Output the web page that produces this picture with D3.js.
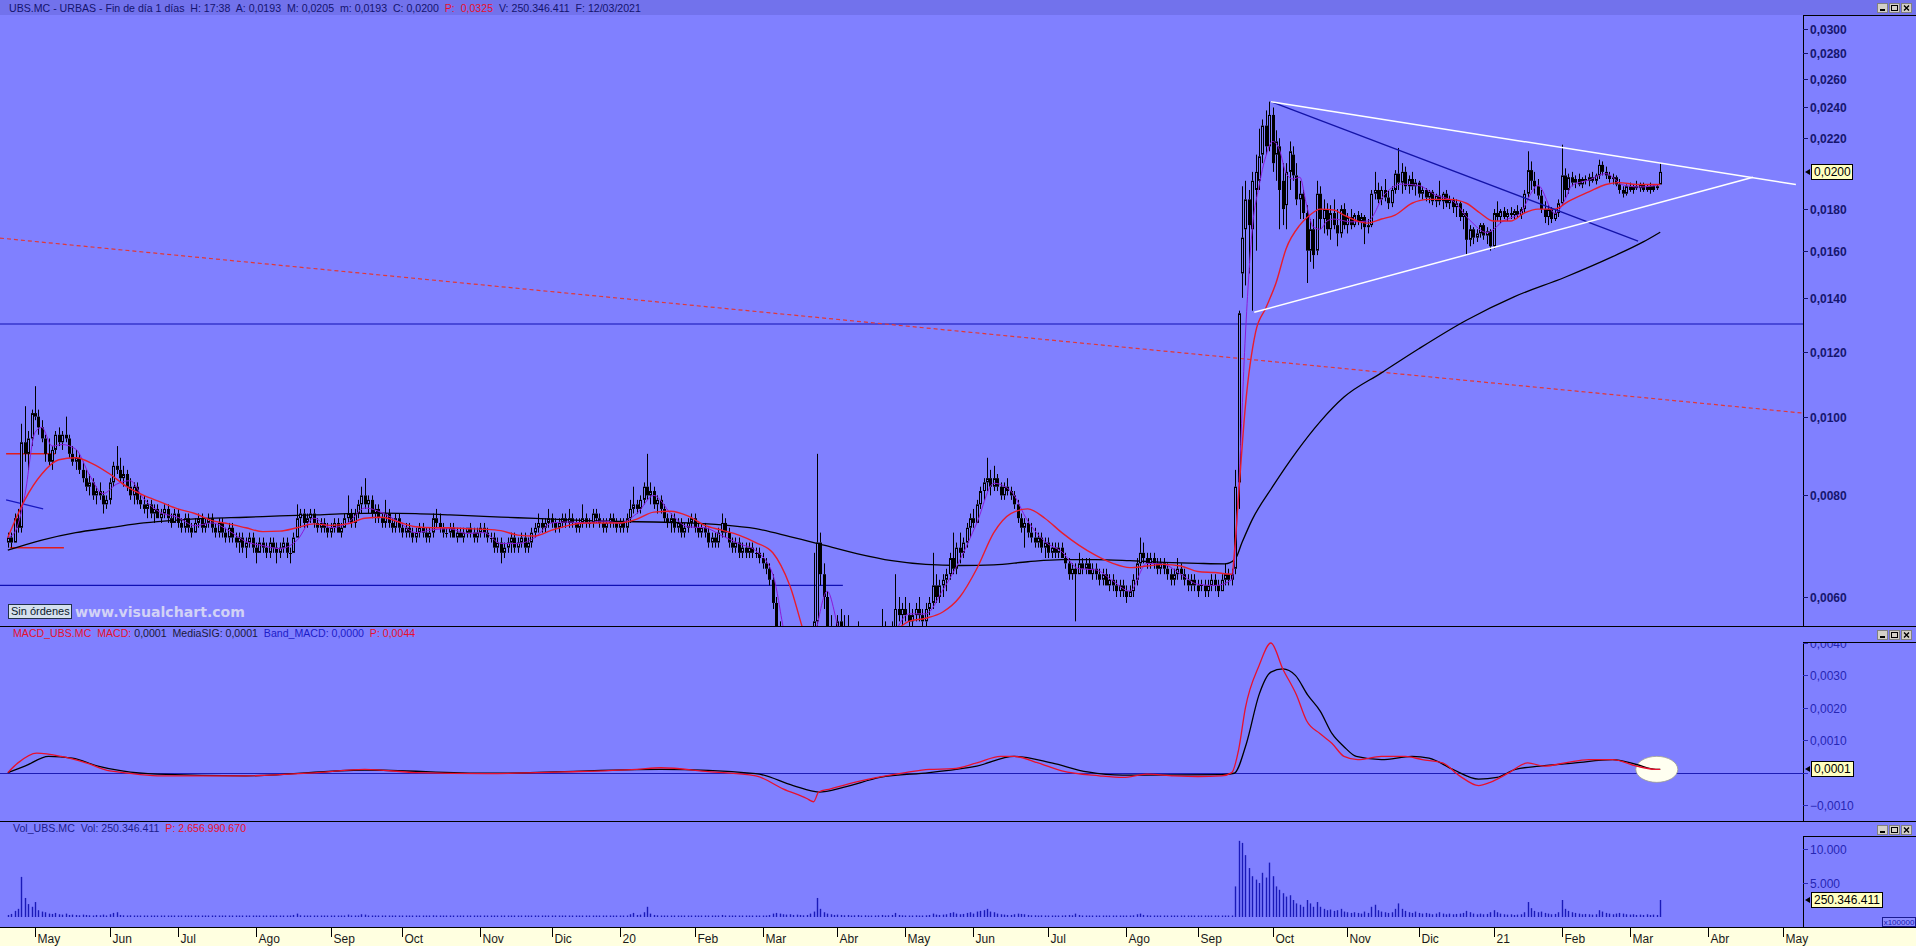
<!DOCTYPE html>
<html><head><meta charset="utf-8">
<script src="https://cdn.jsdelivr.net/npm/d3@7"></script>
<style>html,body{margin:0;padding:0;background:#8080ff;overflow:hidden}</style>
</head><body>
<svg id="c" width="1916" height="946"></svg>
<script>
// ---------------- DATA (prices in units of 0.0001, volume in units of 100000 shares) ----------------
const firstSession = "2019-04-17";
const marketHolidays = ["2019-04-19","2019-04-22","2019-05-01","2019-12-25","2019-12-26","2020-01-01","2020-04-10","2020-04-13","2020-05-01","2020-12-25","2021-01-01"];
const monthLabels = ["May","Jun","Jul","Ago","Sep","Oct","Nov","Dic","20","Feb","Mar","Abr","May","Jun","Jul","Ago","Sep","Oct","Nov","Dic","21","Feb","Mar","Abr","May"];

const openT = [
70,71,70,75,73,93,90,94,101,100, 97,94,90,88,91,95,93,95,94,90, 88,89,86,84,82,83,80,81,80,78, 79,83,87,86,84,85,82,80,82,79,
78,77,78,76,77,75,76,77,75,74, 76,74,73,75,73,72,74,75,73,74, 75,73,72,74,72,71,73,71,70,71, 69,70,71,69,68,70,69,68,70,69,
68,69,70,68,68,71,75,76,74,75, 76,74,73,74,73,72,73,74,72,73, 75,76,74,76,78,80,78,79,76,77, 75,74,76,74,73,75,73,72,73,72,
71,72,73,72,71,72,75,74,73,72, 72,73,71,72,71,72,73,72,71,72, 73,72,71,71,69,70,68,69,70,71, 69,70,71,69,70,72,73,74,73,74,
75,74,73,74,75,74,75,74,73,74, 75,74,74,76,75,74,73,74,75,74, 73,74,73,75,77,78,77,79,82,80, 81,78,79,77,75,74,75,73,74,72,
73,74,75,73,72,73,72,70,71,70, 72,74,72,70,69,70,68,69,68,69, 68,68,67,66,65,63,59,55,51,48, 46,44,45,47,45,48,50,52,56,70,
64,60,55,52,53,56,54,55,52,50, 51,53,51,52,51,50,51,53,54,52, 54,55,58,57,58,57,56,57,58,57, 56,58,59,62,60,62,63,64,67,65,
69,68,70,73,75,74,78,81,83,84, 82,84,82,80,82,81,80,78,75,73, 74,72,71,70,71,69,70,68,69,68, 69,67,66,64,65,64,66,65,66,64,
65,64,63,64,62,63,62,61,62,61, 60,61,63,66,68,67,66,67,66,65, 66,65,64,63,64,65,64,63,62,63, 62,62,62,61,62,63,62,61,63,64,
63,65,83,150,170,185,170,190,195,210, 228,215,235,210,215,195,182,200,210,198, 185,188,178,160,170,160,188,175,180,170, 178,172,168,180,172,176,172,177,174,176,
171,172,188,190,185,190,186,183,190,199, 194,200,192,196,192,194,188,190,186,189, 184,187,184,188,183,185,181,183,176,178, 165,170,166,168,172,167,169,162,178,176,
179,176,178,177,179,177,180,188,201,195, 192,187,180,176,180,175,178,183,198,190, 197,194,196,193,196,195,197,195,198,204, 200,198,196,197,193,190,188,192,190,192,
191,193,190,192,190,192,193];
const highT = [
72,72,76,77,98,103,96,102,109,102, 99,95,94,92,96,97,96,100,95,92, 91,90,88,86,85,84,82,83,81,80, 84,88,92,89,87,86,84,83,83,80,
80,79,79,78,78,77,78,78,76,77, 77,75,76,76,74,75,76,76,75,76, 76,74,75,75,73,74,74,72,72,72, 71,72,72,70,71,71,70,71,71,70,
70,71,71,69,72,78,77,77,76,77, 77,75,75,75,74,74,75,75,74,76, 80,77,77,79,82,84,80,80,78,78, 76,79,77,75,76,76,74,74,74,73,
73,74,74,73,73,76,77,76,74,73, 74,74,73,73,73,73,74,73,73,74, 74,73,72,72,71,71,70,71,72,72, 71,72,72,71,73,74,76,75,75,77,
76,75,75,76,76,77,76,75,75,78, 76,75,77,77,76,75,75,76,76,75, 75,75,76,79,82,79,80,83,90,83, 82,80,80,78,76,76,76,75,75,74,
75,76,76,74,74,74,73,72,72,73, 76,75,73,71,71,71,70,70,70,70, 69,69,68,67,66,64,60,56,53,50, 48,47,48,49,49,52,54,68,90,72,
66,61,57,55,57,58,57,57,54,53, 56,55,53,54,53,52,55,58,56,55, 56,64,60,59,60,59,58,59,60,58, 59,60,68,64,63,64,65,68,72,70,
72,71,74,76,77,79,82,84,89,86, 87,85,83,83,84,82,81,79,76,75, 75,74,73,72,72,71,71,70,70,70, 70,68,67,66,66,68,67,67,67,66,
66,65,65,65,64,64,63,63,63,62, 62,64,67,71,70,68,68,68,67,67, 67,66,65,65,67,66,65,64,64,64, 63,63,63,63,64,64,63,64,66,65,
65,86,135,192,195,190,200,210,226,232, 238,244,240,225,220,205,205,218,215,205, 195,190,182,175,175,195,192,185,183,182, 185,180,182,183,178,180,178,179,178,177,
175,190,200,194,192,196,190,192,201,214, 205,203,198,200,196,195,192,191,190,190, 188,195,189,190,187,186,185,184,180,179, 172,171,170,173,173,171,170,180,184,180,
181,180,181,180,182,181,190,212,206,200, 196,190,184,182,181,180,185,216,202,199, 200,198,199,197,198,199,200,199,207,206, 203,200,199,198,196,192,193,194,193,195,
194,194,193,194,193,193,205];
const lowT = [
69,69,70,72,72,88,86,92,99,95, 93,88,87,86,90,92,91,93,89,87, 86,85,83,81,80,79,78,79,76,77, 78,82,85,83,82,81,79,78,78,77,
76,75,75,74,75,74,75,74,73,74, 73,72,72,72,71,72,73,72,72,73, 72,71,71,71,70,70,70,69,68,68, 67,69,68,66,68,68,67,67,68,66,
67,68,67,66,68,71,73,73,73,74, 73,72,72,72,71,71,72,72,71,73, 74,73,73,75,76,77,76,75,74,74, 73,73,73,72,72,72,71,71,71,70,
70,71,71,70,70,71,73,72,71,71, 71,71,70,71,70,71,71,70,70,71, 71,70,70,68,68,66,67,68,68,68, 68,69,68,68,69,71,72,72,72,73,
73,72,72,73,73,73,73,72,72,73, 73,73,73,74,73,72,72,73,73,72, 72,72,72,74,76,76,76,78,79,78, 77,76,76,74,73,72,72,72,71,71,
72,73,72,71,71,71,69,69,69,69, 71,71,69,68,68,67,67,67,67,67, 67,66,65,64,62,58,53,49,46,44, 42,41,43,44,44,46,48,50,55,62,
58,53,50,49,51,52,52,51,49,48, 50,50,49,50,49,48,50,52,51,51, 52,54,56,55,56,55,55,56,56,55, 55,57,58,59,59,60,61,63,64,64,
66,67,69,71,73,74,77,79,81,80, 81,81,79,79,80,79,77,74,72,69, 71,70,69,69,68,67,67,67,67,67, 67,65,63,63,56,64,64,64,64,63,
63,62,62,62,61,61,60,60,60,59, 60,60,62,65,66,65,65,65,64,64, 64,63,62,62,63,63,62,61,61,61, 60,61,60,60,61,61,60,61,62,62,
62,64,77,140,145,150,135,160,190,205, 210,212,200,195,170,172,170,190,195,182, 175,175,146,155,152,158,170,168,167,165, 170,162,166,170,168,170,171,172,170,163,
168,171,185,183,182,184,180,181,188,190, 188,190,188,190,187,186,185,184,183,182, 181,182,180,181,180,178,176,174,170,158, 162,163,164,166,165,163,160,161,174,173,
175,174,175,175,176,175,178,186,190,188, 185,178,173,172,173,174,176,182,186,188, 192,191,192,191,193,192,194,193,196,198, 196,194,193,192,188,186,187,189,188,190,
189,189,189,188,189,190,193];
const closeT = [
71,70,75,73,93,90,94,101,100,97, 94,90,88,91,95,93,95,94,90,88, 89,86,84,82,83,80,81,80,78,79, 83,87,86,84,85,82,80,82,79,78,
77,78,76,77,75,76,77,75,74,76, 74,73,75,73,72,74,75,73,74,75, 73,72,74,72,71,73,71,70,71,69, 70,71,69,68,70,69,68,70,69,68,
69,70,68,68,71,75,76,74,75,76, 74,73,74,73,72,73,74,72,73,75, 76,74,76,78,80,78,79,76,77,75, 74,76,74,73,75,73,72,73,72,71,
72,73,72,71,72,75,74,73,72,72, 73,71,72,71,72,73,72,71,72,73, 72,71,71,69,70,68,69,70,71,69, 70,71,69,70,72,73,74,73,74,75,
74,73,74,75,74,75,74,73,74,75, 74,74,76,75,74,73,74,75,74,73, 74,73,75,77,78,77,79,82,80,81, 78,79,77,75,74,75,73,74,72,73,
74,75,73,72,73,72,70,71,70,72, 74,72,70,69,70,68,69,68,69,68, 68,67,66,65,63,59,55,51,48,46, 44,45,47,45,48,50,52,56,70,64,
60,55,52,53,56,54,55,52,50,51, 53,51,52,51,50,51,53,54,52,54, 55,58,57,58,57,56,57,58,57,56, 58,59,62,60,62,63,64,67,65,69,
68,70,73,75,74,78,81,83,84,82, 84,82,80,82,81,80,78,75,73,74, 72,71,70,71,69,70,68,69,68,69, 67,66,64,65,64,66,65,66,64,65,
64,63,64,62,63,62,61,62,61,60, 61,63,66,68,67,66,67,66,65,66, 65,64,63,64,65,64,63,62,63,62, 61,62,61,62,63,62,61,63,64,63,
64,82,134,166,185,172,195,200,209,228, 215,235,205,218,190,180,200,212,198,185, 188,178,160,170,158,188,175,180,170,178, 172,168,180,172,176,172,177,174,176,171,
172,188,190,185,190,186,183,190,199,194, 200,192,196,192,194,188,190,186,189,184, 187,184,188,183,185,181,183,176,178,165, 170,166,168,172,167,169,162,178,176,179,
176,178,177,179,177,180,188,201,195,192, 187,180,176,180,175,178,183,198,190,197, 194,196,193,196,195,197,195,198,204,200, 198,196,197,193,190,188,192,190,192,191,
193,190,192,190,192,191,200];
const volumeU = [
300,450,900,1200,5900,2800,1900,1500,2200,1000, 800,700,500,450,600,400,350,500,300,350, 300,250,350,300,250,200,300,250,350,200, 400,600,700,300,250,200,250,200,150,200,
150,200,150,120,180,150,200,150,120,100, 150,120,100,180,120,150,100,120,150,100, 120,100,150,120,100,130,90,110,150,100, 120,90,100,150,100,80,120,100,90,130,
100,120,90,110,300,500,250,150,120,100, 100,120,90,80,100,120,90,100,80,150, 350,150,120,200,400,350,200,150,120,100, 100,200,120,90,110,100,80,100,90,80,
100,90,80,100,90,250,150,100,90,80, 90,80,100,70,90,80,100,70,80,90, 80,70,90,150,120,200,100,90,80,100, 90,80,100,90,150,120,200,100,90,110,
90,80,100,90,80,120,90,80,90,200, 100,90,150,100,80,90,80,100,90,80, 100,90,150,400,600,300,350,700,1500,500, 300,250,200,150,120,150,100,120,150,100,
120,150,100,90,100,90,150,100,90,120, 300,150,120,100,90,100,80,90,100,80, 90,100,150,200,300,500,600,500,400,350, 400,300,350,300,250,300,500,800,2800,1200,
700,500,400,300,350,300,250,300,200,250, 300,200,250,200,180,200,250,300,200,250, 300,600,300,250,200,220,200,250,200,180, 250,300,500,350,300,350,400,600,700,500,
400,450,600,700,500,800,900,1000,1200,800, 700,500,400,350,300,300,400,500,450,400, 300,250,250,200,250,200,180,200,150,180, 200,250,300,250,500,300,200,180,150,200,
150,180,150,200,150,180,150,120,150,200, 150,250,400,500,300,250,200,180,150,200, 150,120,150,130,200,150,120,100,150,120, 100,120,100,130,150,120,100,150,200,150,
200,4500,11200,10900,9100,7200,6000,5500,5000,6500, 5800,8000,6000,4500,4000,3500,3000,3200,2500,2000, 1800,1500,2500,2000,1500,2200,1500,1200,1000,1100, 900,1000,1200,800,700,600,700,600,500,800,
600,1500,1800,1000,800,700,600,700,1200,2000, 1200,900,700,600,800,600,500,600,500,400, 500,700,500,400,500,400,450,500,600,900, 700,500,400,500,400,450,700,1000,700,500,
400,350,400,300,350,400,700,2200,1300,900, 700,800,600,500,400,450,700,2500,1200,900, 700,600,500,400,450,400,350,400,1000,800, 600,500,400,500,600,500,400,350,400,300,
350,300,400,300,350,300,2503];

// moving averages: [session index, value in 0.0001]
const maShort = [[0,71],[2,72],[5,80],[8,95.6],[10,97],[13,92],[16,92.4],[20,91.2],[24,84.8],[28,80.4],[32,82.6],[36,83.4],[40,79.2],[45,76.2],[50,75.2],[55,73.4],[60,74],[65,72.4],[70,70.2],[75,69.4],[80,68.8],[85,70.4],[90,75],[95,73],[100,74],[105,77.2],[110,76.2],[115,74.2],[120,72],[125,72.6],[130,72.8],[135,71.8],[140,72],[145,69.8],[150,69.8],[155,71],[160,74],[165,74.2],[170,74],[175,74.4],[180,74],[185,76],[190,80],[195,76],[200,73.2],[205,73],[210,71.4],[215,69.8],[220,68.4],[225,64],[228,55.2],[231,46.8],[235,47],[238,55.2],[241,61],[245,54],[250,52.2],[255,51],[260,53.6],[265,57.2],[270,57.2],[275,61.2],[280,66.6],[285,74],[290,82.8],[295,81],[300,74.4],[305,70.2],[310,68.2],[315,65],[320,64.8],[325,62.8],[330,61],[335,66],[340,65.8],[345,64],[350,62.2],[355,62],[360,63],[362,81.4],[364,126],[366,170],[368,192],[370,209],[372,218],[374,213],[376,199],[378,196],[380,197],[382,182],[384,171],[386,170],[388,174],[390,175],[395,173.6],[400,174],[405,187.8],[410,193.2],[415,192.4],[420,187.2],[425,184.2],[430,174.4],[435,168.4],[440,174.2],[445,178.2],[448,188.2],[450,192.6],[455,177.8],[458,184.8],[460,192.4],[465,195.4],[470,199],[475,192.8],[480,191.6],[486,193]];
const maMedium = [[0,71],[5,79],[10,85],[15,88.5],[20,89],[25,87.5],[30,85],[35,82],[40,80],[45,78.5],[50,77],[55,76],[60,74.5],[65,73.8],[70,73],[75,72.2],[80,72.3],[85,73],[90,73.8],[95,73.5],[100,73.8],[105,75],[110,75.2],[115,74.2],[120,73.2],[125,73],[130,73],[135,72.8],[140,72.7],[145,72.4],[150,71.5],[155,71.3],[160,72.5],[165,73.5],[170,74],[175,74],[180,74],[185,74.8],[190,76.3],[195,76.5],[200,75.5],[205,73.5],[210,72.5],[215,71.5],[220,70],[225,68],[230,62],[235,53],[240,49],[245,50],[250,51],[255,52],[260,54],[265,56],[270,56.5],[275,57.5],[280,60],[285,65],[290,72],[295,76],[300,77],[305,75],[310,72],[315,69.5],[320,67.5],[325,66],[330,65.2],[335,65.5],[340,65.8],[345,65.5],[350,64.5],[355,64.3],[360,64],[361,70],[362,80],[364,103],[367,127],[370,136],[373,146],[376,161],[380,172],[383,177],[386,180],[390,179.5],[393,177],[397,174],[400,173],[404,175],[408,177],[413,183],[418,185],[424,185],[429,183],[433,178],[437,174],[442,174],[446,178],[450,180],[455,180],[459,184],[465,189],[470,193],[474,194],[479,193],[486,193]];
const maLong = [[0,68.5],[10,70.5],[20,72],[30,73],[40,74],[50,74.6],[60,75],[70,75.2],[80,75.5],[90,75.7],[100,76],[110,76.1],[120,76],[130,75.7],[140,75.4],[150,75.1],[160,74.8],[170,74.5],[180,74.3],[190,74.2],[200,74],[210,73.6],[220,72.8],[230,71.2],[240,69.5],[250,67.8],[260,66.5],[270,65.8],[280,65.6],[290,65.7],[300,66.3],[310,66.7],[320,66.7],[330,66.5],[340,66.2],[350,66],[358,65.9],[361,66.8],[363,70],[366,74.7],[372,82],[379,90.5],[386,98.6],[393,105.7],[404,113.2],[415,121.2],[429,131.4],[443,140.4],[458,148.4],[472,157.3],[481,164],[486,168.6]];

// MACD pane [session index, value in 0.0001]
const macdLine = [[0,0],[3,3],[8.5,6],[15.7,5],[23,3],[30,0.5],[34,0],[44,-1],[70,-1],[91,0],[105,1],[120,0],[141,-0.3],[163,0.2],[185,1],[192,1.5],[206,0.3],[220,-1],[228,-5],[235,-8],[237,-9],[238.5,-6],[242,-5],[249,-3],[264,0],[271,1],[278,1.2],[285,3],[292,5],[296,5],[303,3],[310,0.5],[321,-1],[328,-1.5],[335,-0.5],[343,-1],[350,-1.2],[357,-1],[360,0],[362,7],[364,20],[368,33],[371.5,40],[375,32],[379,24],[382,16],[386,12],[389.5,9],[393,5],[397,4],[404,5],[411,5],[416,4],[422,3],[427,-1],[432.6,-4],[436,-3],[441.6,0],[447,3],[452,2],[458,3],[465,4],[472,4],[479,2],[484.7,1],[486,1]];
const signalLine = [[0,0],[5,2],[12,5],[19,4.5],[26.5,2],[33.6,0.5],[44,-0.5],[70,-1],[105,0.8],[141,-0.2],[192,1],[220,-0.3],[231,-4],[238.5,-6],[246,-4.5],[256.5,-1.5],[271,0],[285,2],[296,5],[307,3],[317.6,0.2],[328,-0.8],[357,-0.6],[360.7,-0.2],[364.3,9],[368,24],[371.5,31],[375,32],[378.7,30],[382.3,24],[386,19],[389.5,12],[393,8],[396.6,5],[404,4],[413,5],[418,4.5],[425,1],[432.6,-2],[438,-1.5],[443.4,1],[450.5,2],[461,3],[472,4],[479,2.5],[484.7,1],[486,1]];

// drawn objects: [session index, price]
const triUpper = [[371.5,0.0244],[525.9,0.0193]];
const triLower = [[366.6,0.01344],[513.3,0.0197]];
const blueDiag = [[371.5,0.0244],[479.5,0.01644]];
const redDashed = [[-2.3,0.01658],[528,0.0101]];
const hLineHigh = [[-2.3,0.0130],[528,0.0130]];
const hLineLow = [[-2.3,0.0062],[245.6,0.0062]];
const shortRedA = [[-0.5,0.0090],[14,0.0090]];
const shortRedB = [[0.6,0.0069],[16.5,0.0069]];
const shortBlue = [[-0.5,0.0079],[10.4,0.0077]];

const priceTicks = [0.03,0.028,0.026,0.024,0.022,0.018,0.016,0.014,0.012,0.010,0.008,0.006];
const macdTicks = [-0.001,0.001,0.002,0.003,0.004];
const volTicks = [5000,10000];

// ---------------- LAYOUT ----------------
const W=1916,H=946,AX=1803,BG="#8080ff";
const NAVY="#14146e",RED="#e8102c";
const svg=d3.select("#c");
const defs=svg.append("defs");
function clip(id,x,y,w,h){defs.append("clipPath").attr("id",id).append("rect").attr("x",x).attr("y",y).attr("width",w).attr("height",h);}
clip("cMain",0,15,AX,611);clip("cMacd",0,642,AX,179);clip("cVol",0,836,AX,91);clip("cMacdAx",AX,643,W-AX,178);

svg.append("rect").attr("width",W).attr("height",H).attr("fill",BG);
svg.append("rect").attr("x",0).attr("y",0).attr("width",W).attr("height",15).attr("fill","#7272ec");

// trading calendar
const hol=new Set(marketHolidays);
const dates=[];
{let d=new Date(firstSession+"T00:00:00Z");
 while(dates.length<535){const wd=d.getUTCDay();const s=d.toISOString().slice(0,10);
  if(wd!==0&&wd!==6&&!hol.has(s))dates.push(s);d.setUTCDate(d.getUTCDate()+1);}}
const nData=closeT.length;

const x=d3.scaleLinear().domain([0,486]).range([7.8,7.8+486*3.4]);
const y=d3.scaleLog().domain([0.006,0.03]).range([597,28.7]);
const ym=d3.scaleLinear().domain([-0.001,0.004]).range([805,643]);
const yv=d3.scaleLinear().domain([0,10000]).range([917,849]);

// ---------- main pane ----------
const gM=svg.append("g").attr("clip-path","url(#cMain)");
const seg=(pts,stroke,w,dash)=>{gM.append("path").attr("d",d3.line().x(d=>x(d[0])).y(d=>y(d[1]))(pts))
  .attr("fill","none").attr("stroke",stroke).attr("stroke-width",w).attr("stroke-dasharray",dash||null);};
seg(hLineHigh,"#1010b4",1.2);
seg(hLineLow,"#1010b4",1.2);
seg(redDashed,"#e03838",1.2,"4,3");
seg(shortRedA,"#e01c1c",1.5);
seg(shortRedB,"#e01c1c",1.5);
seg(shortBlue,"#1818c0",1.2);

const maLine=d3.line().x(d=>x(d[0])).y(d=>y(d[1]*1e-4)).curve(d3.curveMonotoneX);
gM.append("path").attr("d",maLine(maLong)).attr("fill","none").attr("stroke","#000").attr("stroke-width",1.3);

const candles=closeT.map((c,i)=>({i,o:openT[i]*1e-4,h:highT[i]*1e-4,l:lowT[i]*1e-4,c:c*1e-4}));
const gC=gM.append("g");
candles.forEach(k=>{
  const cx=Math.round(x(k.i));
  const top=y(Math.max(k.o,k.c)),bot=y(Math.min(k.o,k.c));
  gC.append("line").attr("x1",cx+0.5).attr("x2",cx+0.5).attr("y1",y(k.h)).attr("y2",top).attr("stroke","#000").attr("stroke-width",1);
  gC.append("line").attr("x1",cx+0.5).attr("x2",cx+0.5).attr("y1",bot).attr("y2",y(k.l)).attr("stroke","#000").attr("stroke-width",1);
  if(Math.abs(bot-top)<1.5){
    gC.append("line").attr("x1",cx-1).attr("x2",cx+2).attr("y1",Math.round(top)+0.5).attr("y2",Math.round(top)+0.5).attr("stroke","#000");
  } else if(k.c<k.o){
    gC.append("rect").attr("x",cx-1).attr("width",3).attr("y",top).attr("height",bot-top).attr("fill","#000");
  } else {
    gC.append("rect").attr("x",cx-0.5).attr("width",2).attr("y",top+0.5).attr("height",bot-top-1).attr("fill",BG).attr("stroke","#000").attr("stroke-width",1);
  }
});
gM.append("path").attr("d",maLine(maShort)).attr("fill","none").attr("stroke","#8a1ad8").attr("stroke-width",1);
gM.append("path").attr("d",maLine(maMedium)).attr("fill","none").attr("stroke","#e81c2c").attr("stroke-width",1.4);
seg(blueDiag,"#1414a8",1.3);
seg(triUpper,"#ffffff",1.5);
seg(triLower,"#ffffff",1.5);

// ---------- MACD pane ----------
const gD=svg.append("g").attr("clip-path","url(#cMacd)");
gD.append("line").attr("x1",0).attr("x2",AX).attr("y1",Math.round(ym(0))+0.5).attr("y2",Math.round(ym(0))+0.5).attr("stroke","#1c1cb4").attr("stroke-width",1);
gD.append("ellipse").attr("cx",x(485)).attr("cy",ym(0.0001)).attr("rx",21).attr("ry",13).attr("fill","#fffff0").attr("stroke","#a0a090").attr("stroke-width",0.8);
const mLine=d3.line().x(d=>x(d[0])).y(d=>ym(d[1]*1e-4)).curve(d3.curveMonotoneX);
gD.append("path").attr("d",mLine(signalLine)).attr("fill","none").attr("stroke","#000").attr("stroke-width",1.3);
gD.append("path").attr("d",mLine(macdLine)).attr("fill","none").attr("stroke","#e8102c").attr("stroke-width",1.3);

// ---------- Volume pane ----------
const gV=svg.append("g").attr("clip-path","url(#cVol)");
volumeU.forEach((v,i)=>{const cx=Math.round(x(i))+0.5;
  gV.append("line").attr("x1",cx).attr("x2",cx).attr("y1",yv(0)).attr("y2",Math.min(yv(0)-1.5,yv(v))).attr("stroke","#1a1ab8").attr("stroke-width",1.4);});

// ---------- frames ----------
const L=(x1,y1,x2,y2,c)=>svg.append("line").attr("x1",x1).attr("y1",y1).attr("x2",x2).attr("y2",y2).attr("stroke",c||"#000").attr("stroke-width",1);
L(AX+0.5,15,AX+0.5,626);L(AX+0.5,642,AX+0.5,821);L(AX+0.5,836,AX+0.5,927);
L(AX,15.5,W,15.5);L(AX,642.5,W,642.5);L(AX,836.5,W,836.5);
L(0,626.5,W,626.5);L(0,821.5,W,821.5);L(0,927.5,W,927.5);

// window buttons
function buttons(yTop){
  const bx=[1877,1889,1901];
  bx.forEach((b,k)=>{
    svg.append("rect").attr("x",b+0.5).attr("y",yTop+0.5).attr("width",10).attr("height",9).attr("fill","#d4d0c8").attr("stroke","#808080");
    if(k===0)svg.append("rect").attr("x",b+3).attr("y",yTop+6).attr("width",5).attr("height",2).attr("fill","#000");
    if(k===1)svg.append("rect").attr("x",b+2.5).attr("y",yTop+2.5).attr("width",6).attr("height",5).attr("fill","none").attr("stroke","#000").attr("stroke-width",1);
    if(k===2){svg.append("path").attr("d",`M${b+3},${yTop+2.5}L${b+8},${yTop+7.5}M${b+8},${yTop+2.5}L${b+3},${yTop+7.5}`).attr("stroke","#000").attr("stroke-width",1.4);}
  });
}
buttons(3);buttons(630);buttons(825);

// ---------- axes ----------
const fmtP=d=>d3.format(".4f")(d).replace(".",",");
priceTicks.forEach(t=>{const yy=Math.round(y(t))+0.5;
  L(AX,yy,AX+5,yy,"#14146e");
  svg.append("text").attr("x",AX+7).attr("y",yy).attr("dy","0.35em").text(fmtP(t))
   .attr("font-family","Liberation Sans, Arial, sans-serif").attr("font-size",12).attr("font-weight","bold").attr("fill","#16166e");});
L(AX,Math.round(ym(0))+0.5,AX+5,Math.round(ym(0))+0.5,"#2a2ab8");
const gMA=svg.append("g").attr("clip-path","url(#cMacdAx)");
macdTicks.forEach(t=>{const yy=Math.round(ym(t))+0.5;
  L(AX,yy,AX+5,yy,"#2a2ab8");
  gMA.append("text").attr("x",AX+7).attr("y",yy).attr("dy","0.35em").text(fmtP(t))
   .attr("font-family","Liberation Sans, Arial, sans-serif").attr("font-size",12).attr("fill","#2626b4");});
volTicks.forEach(t=>{const yy=Math.round(yv(t))+0.5;
  L(AX,yy,AX+5,yy,"#2a2ab8");
  svg.append("text").attr("x",AX+7).attr("y",yy).attr("dy","0.35em").text(d3.format(",")(t).replace(/,/g,"."))
   .attr("font-family","Liberation Sans, Arial, sans-serif").attr("font-size",12).attr("fill","#2626b4");});

// value boxes
function vbox(yc,label,w){
  svg.append("path").attr("d",`M${AX+2},${yc}L${AX+7},${yc-3}L${AX+7},${yc+3}Z`).attr("fill","#000");
  svg.append("rect").attr("x",AX+8.5).attr("y",yc-7.5).attr("width",w).attr("height",15).attr("fill","#ffffc0").attr("stroke","#000");
  svg.append("text").attr("x",AX+11).attr("y",yc).attr("dy","0.36em").text(label)
   .attr("font-family","Liberation Sans, Arial, sans-serif").attr("font-size",12).attr("fill","#000");
}
vbox(Math.round(y(closeT[nData-1]*1e-4)),"0,0200",41);
vbox(Math.round(ym(0.0001)),"0,0001",42);
vbox(Math.round(yv(volumeU[nData-1])),"250.346.411",71);
svg.append("rect").attr("x",1882.5).attr("y",917.5).attr("width",33).attr("height",9).attr("fill","#8c8cff").attr("stroke","#1a1a90");
svg.append("text").attr("x",1899).attr("y",925).attr("text-anchor","middle").text("x100000")
  .attr("font-family","Liberation Sans, Arial, sans-serif").attr("font-size",8).attr("fill","#1a1ab0");

// x axis strip
svg.append("rect").attr("x",0).attr("y",928).attr("width",W).attr("height",18).attr("fill","#ffffe0");
let mi=0;
for(let k=1;k<dates.length&&mi<monthLabels.length;k++){
  if(dates[k].slice(5,7)!==dates[k-1].slice(5,7)){
    const px=Math.round(x(k))+0.5;
    if(px<AX){
      L(px,928,px,937,"#000");
      svg.append("text").attr("x",px+2).attr("y",943).text(monthLabels[mi])
        .attr("font-family","Liberation Sans Narrow, Arial Narrow, Liberation Sans, sans-serif").attr("font-size",12).attr("fill","#1a1a1a");
    }
    mi++;
  }
}

// titles
function title(xp,yp,parts){
  const t=svg.append("text").attr("x",xp).attr("y",yp).attr("font-family","Liberation Sans, Arial, sans-serif").attr("font-size",10.6)
    .attr("xml:space","preserve").style("white-space","pre");
  parts.forEach(p=>t.append("tspan").attr("fill",p[1]).text(p[0]));
}
title(9,11.5,[["UBS.MC - URBAS - Fin de día 1 días  H: 17:38  A: 0,0193  M: 0,0205  m: 0,0193  C: 0,0200  ",NAVY],["P:  0,0325",RED],["  V: 250.346.411  F: 12/03/2021",NAVY]]);
title(13,636.5,[["MACD_UBS.MC  MACD: ",RED],["0,0001  MediaSIG: 0,0001  ","#1a1a3a"],["Band_MACD: 0,0000  ","#1c1cc8"],["P: 0,0044",RED]]);
title(13,832,[["Vol_UBS.MC  Vol: 250.346.411  ","#1c1c8c"],["P: 2.656.990.670",RED]]);

// order status + watermark
svg.append("rect").attr("x",8.5).attr("y",604.5).attr("width",63).attr("height",14).attr("fill","#d4e0ee").attr("stroke","#20304a");
svg.append("text").attr("x",11).attr("y",615).text("Sin órdenes").attr("font-family","Liberation Sans, Arial, sans-serif").attr("font-size",11).attr("fill","#0a1a2a");
svg.append("text").attr("x",75).attr("y",617).text("www.visualchart.com").attr("font-family","DejaVu Sans, Verdana, sans-serif")
  .attr("font-weight","bold").attr("font-size",14).attr("fill","#d2d2f6").attr("textLength",170).attr("lengthAdjust","spacingAndGlyphs");
</script>
</body></html>
